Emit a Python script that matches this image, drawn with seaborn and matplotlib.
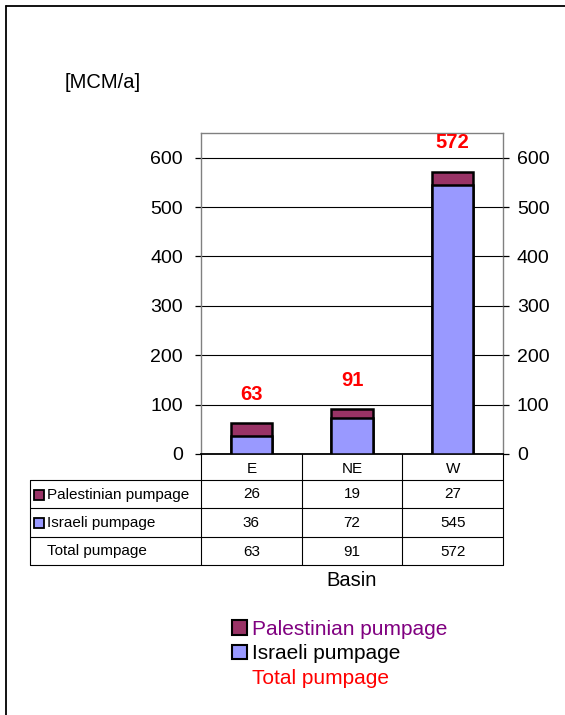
import matplotlib
matplotlib.use("Agg")
import matplotlib.pyplot as plt
import seaborn as sns
import pandas as pd
from matplotlib.patches import Rectangle, Patch
from matplotlib.lines import Line2D
from matplotlib.transforms import blended_transform_factory

# ---- data ----
basins = ["E", "NE", "W"]
palestinian = [26, 19, 27]
israeli = [36, 72, 545]
total = [63, 91, 572]
series_names = ["Palestinian pumpage", "Israeli pumpage", "Total pumpage"]
yticks = [0, 100, 200, 300, 400, 500, 600]
unit_label = "[MCM/a]"
x_title = "Basin"

PAL = "#993366"
ISR = "#9999FF"

sns.set_theme(style="white")
plt.rcParams['font.family'] = ['Liberation Sans', 'DejaVu Sans']
plt.rcParams['text.color'] = 'black'
plt.rcParams['axes.labelcolor'] = 'black'
plt.rcParams['xtick.color'] = 'black'
plt.rcParams['ytick.color'] = 'black'

W, H = 565, 715
fig = plt.figure(figsize=(W / 100, H / 100), dpi=100)


def fx(px):
    return px / W


def fy(py):
    return 1 - py / H


ax = fig.add_axes([fx(201), fy(454), fx(503) - fx(201), fy(133) - fy(454)])

df = pd.DataFrame({"Basin": basins, "Palestinian": palestinian, "Israeli": israeli})
df["Stack"] = df["Israeli"] + df["Palestinian"]

sns.barplot(data=df, x="Basin", y="Stack", color=PAL, saturation=1, width=0.41,
            edgecolor="black", linewidth=1.8, errorbar=None, ax=ax, zorder=3)
sns.barplot(data=df, x="Basin", y="Israeli", color=ISR, saturation=1, width=0.41,
            edgecolor="black", linewidth=1.8, errorbar=None, ax=ax, zorder=4)

ax.set_xlim(-0.5, len(basins) - 0.5)
ax.set_ylim(0, 650)
ax.set_yticks(yticks)
ax.set_xlabel("")
ax.set_ylabel("")
ax.grid(axis="y", color="black", linewidth=0.8, zorder=0)
ax.set_axisbelow(True)
for s in ["top", "right", "left"]:
    ax.spines[s].set_color("#808080")
    ax.spines[s].set_linewidth(1.0)
ax.spines["bottom"].set_color("black")
ax.spines["bottom"].set_linewidth(1.3)

ax.tick_params(axis="y", left=True, length=4, width=0.9, color="black",
               labelcolor="black", labelsize=14, pad=9, direction="out")
ax.tick_params(axis="x", length=0, pad=6, labelsize=11, labelcolor="black")

ax2 = ax.twinx()
ax2.set_ylim(ax.get_ylim())
ax2.set_yticks(yticks)
ax2.tick_params(axis="y", right=True, length=4, width=0.9, color="black",
                labelcolor="black", labelsize=14, pad=6, direction="out")
for s in ax2.spines.values():
    s.set_visible(False)
ax2.grid(False)

# total labels
stack = df["Stack"].tolist()
for i, t in enumerate(total):
    ax.annotate(str(t), (i, stack[i]), xytext=(0, 14), textcoords="offset points",
                ha="center", va="bottom", color="red", fontsize=14.5,
                fontweight="bold", zorder=6)

# ---- data table ----
bt = blended_transform_factory(ax.transData, fig.transFigure)
lc = "black"
lw = 0.8
row_edges = [480, 508, 537, 565]
for ry in row_edges:
    fig.add_artist(Line2D([fx(30), fx(503)], [fy(ry), fy(ry)], color=lc, lw=lw))
for xb in [i - 0.5 for i in range(len(basins) + 1)]:
    fig.add_artist(Line2D([xb, xb], [fy(454), fy(565)], color=lc, lw=lw, transform=bt))
fig.add_artist(Line2D([fx(30), fx(30)], [fy(480), fy(565)], color=lc, lw=lw))

row_vals = [palestinian, israeli, total]
row_centers = [494.5, 523, 551.5]
markers = [PAL, ISR, None]
for r, (name, vals, cy, mc) in enumerate(zip(series_names, row_vals, row_centers, markers)):
    for i, v in enumerate(vals):
        fig.text(i, fy(cy), str(v), transform=bt, ha="center", va="center",
                 fontsize=11, color="black")
    if mc is not None:
        fig.add_artist(Rectangle((fx(34), fy(cy + 5)), fx(10), (fy(cy - 5) - fy(cy + 5)),
                                 facecolor=mc, edgecolor="black", lw=1.3,
                                 transform=fig.transFigure))
        fig.text(fx(47), fy(cy), name, ha="left", va="center", fontsize=11)
    else:
        fig.text(fx(47), fy(cy), name, ha="left", va="center", fontsize=11)

# axis title and unit
fig.text(fx(352), fy(581), x_title, ha="center", va="center", fontsize=14.5)
fig.text(fx(65), fy(82), unit_label, ha="left", va="center", fontsize=14.5)

# legend
handles = [Patch(facecolor=PAL, edgecolor="black", linewidth=1.5),
           Patch(facecolor=ISR, edgecolor="black", linewidth=1.5),
           Patch(facecolor="none", edgecolor="none")]
leg = fig.legend(handles, series_names, loc="upper left",
                 bbox_to_anchor=(fx(217), fy(605)), frameon=False, fontsize=15,
                 handlelength=0.72, handleheight=0.72, handletextpad=0.25,
                 labelspacing=0.27, borderpad=0.2,
                 labelcolor=["#800080", "black", "red"])

# outer border
fig.add_artist(Line2D([fx(6), fx(6)], [fy(6), 0], color="black", lw=1.3))
fig.add_artist(Line2D([fx(6), 1], [fy(6), fy(6)], color="black", lw=1.3))

fig.savefig("out.png", dpi=100)
